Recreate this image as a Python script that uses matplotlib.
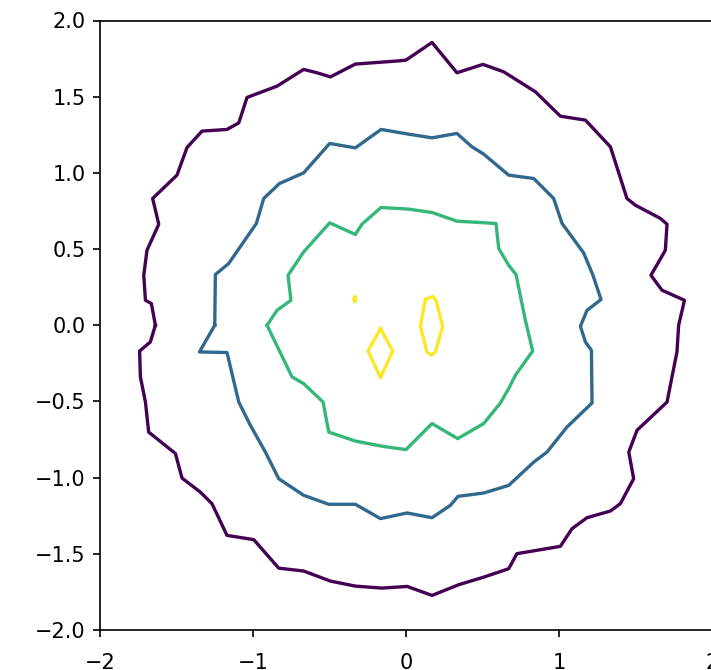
import numpy as np
import matplotlib
matplotlib.use("Agg")
import matplotlib.pyplot as plt

# Contour levels (outer to inner), each closed path given as x / y vertex lists
level_colors = ["#440154", "#31688e", "#35b779", "#fde725"]

outer_x = [-1.638, -1.664, -1.703, -1.714, -1.693, -1.616, -1.656, -1.497, -1.431, -1.333,
           -1.170, -1.093, -1.039, -0.843, -0.669, -0.582, -0.494, -0.331, -0.048, 0.0,
           0.170, 0.333, 0.503, 0.639, 0.846, 1.009, 1.173, 1.336, 1.444, 1.499,
           1.663, 1.706, 1.695, 1.601, 1.673, 1.820, 1.782, 1.771, 1.706, 1.510,
           1.456, 1.488, 1.401, 1.336, 1.183, 1.085, 1.009, 0.725, 0.671, 0.508,
           0.344, 0.170, 0.007, -0.157, -0.331, -0.494, -0.669, -0.832, -0.995, -1.170,
           -1.268, -1.344, -1.464, -1.507, -1.682, -1.703, -1.736, -1.741, -1.671]
outer_y = [0.0, 0.142, 0.164, 0.328, 0.492, 0.663, 0.832, 0.985, 1.167, 1.274,
           1.285, 1.328, 1.495, 1.569, 1.679, 1.657, 1.630, 1.714, 1.735, 1.740,
           1.856, 1.657, 1.712, 1.663, 1.532, 1.372, 1.346, 1.171, 0.832, 0.788,
           0.701, 0.663, 0.492, 0.328, 0.230, 0.164, 0.0, -0.175, -0.504, -0.689,
           -0.832, -1.007, -1.171, -1.219, -1.263, -1.335, -1.451, -1.499, -1.598, -1.653,
           -1.703, -1.773, -1.714, -1.725, -1.712, -1.679, -1.613, -1.594, -1.407, -1.379,
           -1.171, -1.095, -1.003, -0.842, -0.701, -0.504, -0.339, -0.169, -0.110]

mid_x = [-1.250, -1.246, -1.159, -0.978, -0.930, -0.827, -0.669, -0.499, -0.331, -0.163,
         0.018, 0.170, 0.333, 0.431, 0.508, 0.671, 0.835, 0.965, 1.020, 1.161,
         1.222, 1.275, 1.183, 1.140, 1.173, 1.212, 1.216, 1.052, 0.922, 0.835,
         0.671, 0.508, 0.340, 0.290, 0.170, 0.007, -0.167, -0.331, -0.505, -0.669,
         -0.832, -0.919, -1.017, -1.093, -1.170, -1.350]
mid_y = [0.0, 0.333, 0.405, 0.668, 0.832, 0.930, 1.000, 1.193, 1.164, 1.285,
         1.254, 1.230, 1.259, 1.171, 1.123, 0.985, 0.963, 0.832, 0.668, 0.475,
         0.328, 0.169, 0.098, -0.007, -0.110, -0.164, -0.510, -0.668, -0.832, -0.898,
         -1.051, -1.101, -1.123, -1.182, -1.263, -1.232, -1.269, -1.175, -1.175, -1.116,
         -1.007, -0.832, -0.657, -0.504, -0.179, -0.175]

inner_x = [-0.908, -0.843, -0.752, -0.771, -0.669, -0.499, -0.331, -0.288, -0.163, 0.018,
           0.170, 0.333, 0.588, 0.606, 0.671, 0.719, 0.780, 0.828, 0.715, 0.671,
           0.617, 0.508, 0.338, 0.170, 0.0, -0.157, -0.331, -0.505, -0.542, -0.669,
           -0.745]
inner_y = [0.0, 0.098, 0.164, 0.328, 0.481, 0.672, 0.596, 0.663, 0.773, 0.762,
           0.740, 0.683, 0.668, 0.504, 0.394, 0.333, 0.033, -0.169, -0.328, -0.416,
           -0.510, -0.645, -0.744, -0.645, -0.816, -0.794, -0.760, -0.701, -0.504, -0.383,
           -0.339]

peak_a_x = [-0.167, -0.087, -0.167, -0.248]
peak_a_y = [-0.022, -0.169, -0.343, -0.169]

peak_b_x = [0.127, 0.175, 0.196, 0.240, 0.192, 0.166, 0.137, 0.094]
peak_b_y = [0.169, 0.190, 0.164, -0.007, -0.175, -0.197, -0.175, -0.007]

peak_c_x = [-0.335, -0.328, -0.335, -0.342]
peak_c_y = [0.185, 0.169, 0.153, 0.169]

x_ticks = [-2, -1, 0, 1, 2]
y_ticks = [-2.0, -1.5, -1.0, -0.5, 0.0, 0.5, 1.0, 1.5, 2.0]

paths = [
    (outer_x, outer_y, level_colors[0]),
    (mid_x, mid_y, level_colors[1]),
    (inner_x, inner_y, level_colors[2]),
    (peak_a_x, peak_a_y, level_colors[3]),
    (peak_b_x, peak_b_y, level_colors[3]),
    (peak_c_x, peak_c_y, level_colors[3]),
]

fig = plt.figure(figsize=(711 / 150, 670 / 150), dpi=150)
ax = fig.add_axes([100 / 711, 40 / 670, 612 / 711, 609.5 / 670])

for xs, ys, col in paths:
    xs = list(xs) + [xs[0]]
    ys = list(ys) + [ys[0]]
    ax.plot(xs, ys, color=col, lw=1.6, solid_joinstyle="round")

ax.set_xlim(-2, 2)
ax.set_ylim(-2, 2)
ax.set_xticks(x_ticks)
ax.set_yticks(y_ticks)
ax.set_yticklabels([f"{v:.1f}".replace("-", "\u2212") for v in y_ticks])
ax.set_xticklabels([str(v).replace("-", "\u2212") for v in x_ticks])
ax.tick_params(axis="x", pad=7.5)

fig.savefig("out.png", dpi=150)
